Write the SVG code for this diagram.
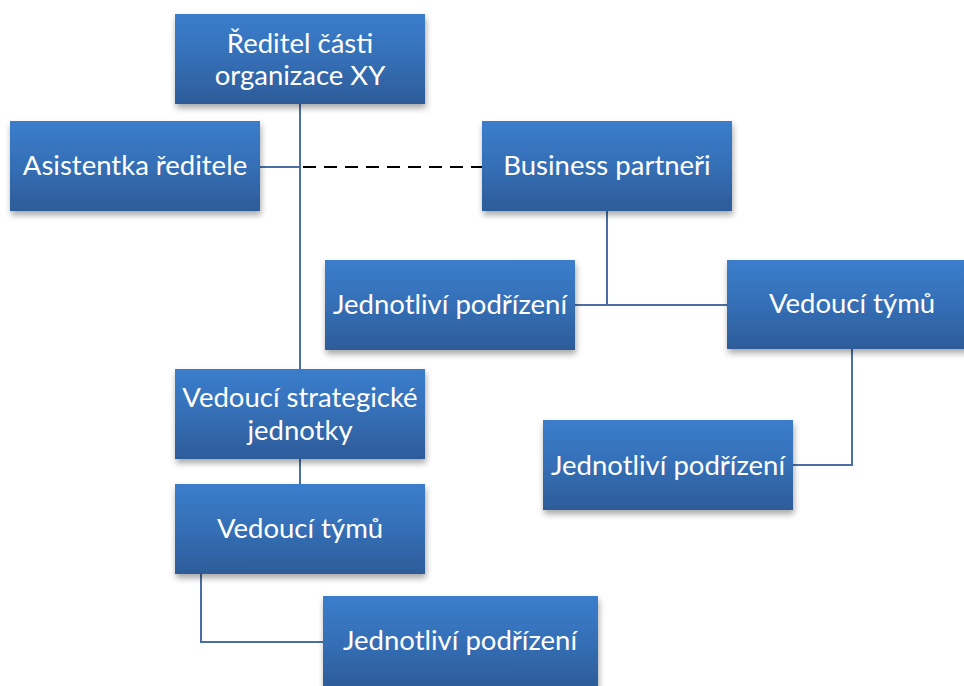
<svg xmlns="http://www.w3.org/2000/svg" width="964" height="686" viewBox="0 0 964 686">
<defs>
<linearGradient id="g" x1="0" y1="0" x2="0" y2="1">
<stop offset="0" stop-color="#3B7DCC"/>
<stop offset="0.5" stop-color="#356FB6"/>
<stop offset="1" stop-color="#2D5C99"/>
</linearGradient>
<filter id="sh" x="-10%" y="-10%" width="125%" height="135%">
<feDropShadow dx="1" dy="4" stdDeviation="3" flood-color="#000" flood-opacity="0.35"/>
</filter>
</defs>
<style>
.box{fill:url(#g);filter:url(#sh)}
.t{font-family:Lato,"Open Sans","Liberation Sans",sans-serif;font-size:27.5px;fill:#fff;text-anchor:middle}
.c{fill:none;stroke:#4A6FA5;stroke-width:2}
.d{fill:none;stroke:#000;stroke-width:2;stroke-dasharray:13 8}
</style>
<rect width="964" height="686" fill="#fff"/>
<g id="connectors">
<path class="c" d="M300 104 V369"/>
<path class="c" d="M260 167 H300"/>
<path class="d" d="M303 167 H482"/>
<path class="c" d="M300 459 V484"/>
<path class="c" d="M201 574 V642 H323"/>
<path class="c" d="M607 211 V305 H727"/>
<path class="c" d="M575 305 H607"/>
<path class="c" d="M852 349 V465 H793"/>
</g>
<g id="reditel">
<rect class="box" x="175" y="14" width="250" height="90"/>
<text class="t" x="300" y="53">Ředitel části</text>
<text class="t" x="300" y="85">organizace XY</text>
</g>
<g id="asistentka">
<rect class="box" x="10" y="121" width="250" height="90"/>
<text class="t" x="135" y="175">Asistentka ředitele</text>
</g>
<g id="business">
<rect class="box" x="482" y="121" width="250" height="90"/>
<text class="t" x="607" y="175">Business partneři</text>
</g>
<g id="podrizeni1">
<rect class="box" x="325" y="260" width="250" height="90"/>
<text class="t" x="450" y="314">Jednotliví podřízení</text>
</g>
<g id="vedouci1">
<rect class="box" x="727" y="260" width="250" height="89"/>
<text class="t" x="852" y="313">Vedoucí týmů</text>
</g>
<g id="podrizeni2">
<rect class="box" x="543" y="420" width="250" height="90"/>
<text class="t" x="668" y="475">Jednotliví podřízení</text>
</g>
<g id="strategicke">
<rect class="box" x="175" y="369" width="250" height="90"/>
<text class="t" x="300" y="407">Vedoucí strategické</text>
<text class="t" x="300" y="440">jednotky</text>
</g>
<g id="vedouci2">
<rect class="box" x="175" y="484" width="250" height="90"/>
<text class="t" x="300" y="538">Vedoucí týmů</text>
</g>
<g id="podrizeni3">
<rect class="box" x="323" y="596" width="275" height="92"/>
<text class="t" x="460" y="650">Jednotliví podřízení</text>
</g>
</svg>
